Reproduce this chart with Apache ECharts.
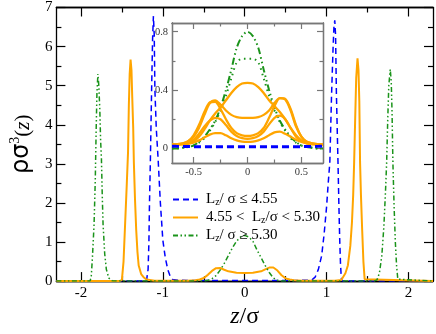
<!DOCTYPE html>
<html>
<head>
<meta charset="utf-8">
<script src="https://cdn.jsdelivr.net/npm/echarts@6/dist/echarts.min.js"></script>
<style>
html, body { margin: 0; padding: 0; background: #fff; }
#chart { width: 436px; height: 334px; }
</style>
</head>
<body>
<div id="chart"></div>
<script>
var serif = '"Liberation Serif", "Times New Roman", serif';
var sans = '"DejaVu Sans", "Liberation Sans", sans-serif';

var legendNames = ['Lz/ σ ≤ 4.55', '4.55 <  Lz/σ < 5.30', 'Lz/ σ ≥ 5.30'];

// main panel ticks
var mainXMajor = [-2, -1, 0, 1, 2];
var mainXMinor = [-1.5, -0.5, 0.5, 1.5];

// inset ticks
var insetXMajor = [-0.5, 0, 0.5];
var insetXMinor = [-0.25, 0.25];
var insetYMajor = [0, 0.4, 0.8];
var insetYMinor = [0.2, 0.6];

// main panel profiles, [z/sigma, rho sigma^3]
var mainBlue = [[-2.3,0],[-1.2,0],[-1.19,0.02],[-1.18,0.3],[-1.17,1.0],[-1.163,2.0],[-1.152,3.1],
  [-1.137,4.9],[-1.125,6.2],[-1.115,6.78],[-1.105,6.3],[-1.097,4.9],[-1.08,3.9],[-1.057,3.1],
  [-1.03,2.0],[-1.0,1.05],[-0.97,0.6],[-0.94,0.3],[-0.91,0.12],[-0.88,0.04],[-0.8,0.02],
  [-0.5,0.015],[0,0.015],[0.5,0.015],[0.75,0.02],[0.82,0.03],[0.86,0.1],[0.9,0.3],[0.94,0.65],
  [0.97,1.2],[1.0,1.9],[1.02,2.5],[1.04,3.05],[1.06,4.7],[1.08,6.0],[1.09,6.5],[1.1,6.67],
  [1.11,6.3],[1.12,4.8],[1.13,3.9],[1.14,3.0],[1.15,2.0],[1.16,1.1],[1.17,0.45],[1.18,0.08],
  [1.19,0],[2.3,0]];

var mainOrange = [[-2.3,0],[-1.53,0],[-1.5,0.03],[-1.48,0.5],[-1.46,1.5],[-1.44,2.5],[-1.425,3.3],
  [-1.415,4.5],[-1.405,5.3],[-1.394,5.67],[-1.383,5.4],[-1.374,4.73],[-1.362,3.93],[-1.354,3.05],
  [-1.34,2.1],[-1.325,1.3],[-1.31,0.75],[-1.295,0.4],[-1.265,0.18],[-1.235,0.1],[-1.2,0.04],
  [-1.1,0.01],[-0.7,0.01],[-0.6,0.02],[-0.55,0.04],[-0.5,0.08],[-0.45,0.16],[-0.4,0.26],
  [-0.35,0.33],[-0.3,0.335],[-0.25,0.29],[-0.2,0.25],[-0.1,0.215],[0,0.21],[0.1,0.215],
  [0.2,0.25],[0.25,0.3],[0.3,0.345],[0.35,0.35],[0.4,0.27],[0.45,0.15],[0.5,0.07],[0.55,0.04],
  [0.6,0.02],[0.7,0.01],[1.1,0.01],[1.18,0.03],[1.2,0.05],[1.23,0.2],[1.26,0.4],[1.29,0.9],
  [1.31,1.5],[1.325,2.2],[1.337,3.05],[1.35,4.2],[1.362,5.2],[1.378,5.7],[1.39,5.4],[1.4,4.6],
  [1.409,3.05],[1.42,2.2],[1.435,1.3],[1.45,0.5],[1.465,0.05],[1.48,0],[2.3,0]];

var mainGreen = [[-2.3,0],[-1.89,0],[-1.875,0.1],[-1.86,0.6],[-1.84,1.45],[-1.825,2.6],[-1.815,3.8],
  [-1.805,4.8],[-1.793,5.3],[-1.782,5.0],[-1.77,4.4],[-1.76,3.6],[-1.75,3.13],[-1.74,2.2],
  [-1.73,1.45],[-1.71,0.7],[-1.69,0.3],[-1.66,0.08],[-1.62,0.01],[-1.55,0],[-0.5,0],[-0.45,0.02],
  [-0.4,0.06],[-0.35,0.14],[-0.3,0.28],[-0.25,0.45],[-0.2,0.65],[-0.15,0.85],[-0.1,1.02],
  [-0.05,1.13],[0,1.17],[0.05,1.13],[0.1,1.02],[0.15,0.8],[0.2,0.6],[0.25,0.4],[0.3,0.22],
  [0.35,0.08],[0.4,0.02],[0.45,0],[1.58,0],[1.615,0.03],[1.645,0.2],[1.675,0.65],[1.7,1.4],
  [1.72,2.3],[1.734,3.05],[1.748,4.2],[1.76,5.0],[1.778,5.42],[1.79,5.1],[1.8,4.3],[1.81,3.05],
  [1.825,1.9],[1.84,1.0],[1.855,0.4],[1.87,0.05],[1.885,0],[2.3,0]];

// inset profiles on a common z grid
var insetZ = [-0.7,-0.65,-0.6,-0.55,-0.5,-0.45,-0.4,-0.35,-0.3,-0.25,-0.2,-0.15,-0.1,-0.05,0,
  0.05,0.1,0.15,0.2,0.25,0.3,0.35,0.4,0.45,0.5,0.55,0.6,0.65,0.7];
var insetBlue = [0.015,0.014,0.013,0.013,0.012,0.012,0.012,0.012,0.012,0.012,0.012,0.012,0.012,0.012,0.012,
  0.012,0.012,0.012,0.012,0.012,0.012,0.012,0.012,0.012,0.012,0.013,0.013,0.014,0.015];
var insetOrangeA = [0.03,0.03,0.03,0.035,0.05,0.08,0.13,0.19,0.24,0.28,0.33,0.38,0.42,0.445,0.45,
  0.445,0.42,0.38,0.33,0.29,0.25,0.2,0.14,0.08,0.05,0.035,0.03,0.03,0.03];
var insetOrangeB = [0.03,0.03,0.035,0.05,0.08,0.14,0.23,0.31,0.33,0.3,0.26,0.23,0.215,0.21,0.21,
  0.21,0.215,0.23,0.26,0.31,0.345,0.34,0.27,0.16,0.08,0.045,0.035,0.03,0.03];
var insetOrangeC = [0.03,0.03,0.035,0.05,0.09,0.16,0.25,0.315,0.32,0.27,0.2,0.14,0.105,0.09,0.085,
  0.09,0.105,0.14,0.21,0.29,0.345,0.335,0.26,0.15,0.08,0.045,0.035,0.03,0.03];
var insetOrangeD = [0.03,0.03,0.03,0.04,0.06,0.1,0.15,0.19,0.21,0.2,0.16,0.115,0.085,0.07,0.065,
  0.07,0.085,0.115,0.165,0.21,0.225,0.2,0.14,0.09,0.055,0.04,0.03,0.03,0.03];
var insetOrangeE = [0.025,0.025,0.028,0.032,0.04,0.055,0.075,0.095,0.105,0.105,0.09,0.07,0.055,0.047,0.045,
  0.047,0.055,0.07,0.09,0.11,0.115,0.1,0.08,0.06,0.045,0.035,0.03,0.028,0.025];
var insetGreen1 = [0,0,0.005,0.01,0.02,0.045,0.08,0.13,0.19,0.28,0.40,0.54,0.69,0.77,0.80,
  0.77,0.69,0.54,0.40,0.28,0.19,0.13,0.08,0.045,0.02,0.01,0.005,0,0];
var insetGreen2 = [0,0,0.005,0.01,0.02,0.04,0.07,0.12,0.18,0.26,0.36,0.48,0.59,0.615,0.615,
  0.615,0.59,0.48,0.36,0.26,0.18,0.12,0.07,0.04,0.02,0.01,0.005,0,0];

var blue = '#0000ff', orange = '#ffa500', green = '#1a931a';
var dashDotDot = [5, 2.5, 1.5, 2.5, 1.5, 2.5];

function pairs(vals) {
    return insetZ.map(function (z, i) { return [z, vals[i]]; });
}

// an axis that only draws ticks (and optionally labels) at given values
function tickAxis(grid, pos, min, max, ticks, len, color, labels, fs) {
    return {
        type: 'value', gridIndex: grid, position: pos, min: min, max: max,
        axisLine: { show: true, onZero: false, lineStyle: { color: color, width: 1.3 } },
        axisTick: { show: true, inside: true, length: len, customValues: ticks,
            lineStyle: { color: color, width: 1.2 } },
        axisLabel: labels ? { show: true, customValues: labels, fontFamily: serif, fontSize: fs,
            color: color === '#000' ? '#000' : '#333', margin: 4 } : { show: false },
        splitLine: { show: false }
    };
}

function mainYAxis(pos, withLabels) {
    var ax = {
        type: 'value', gridIndex: 0, position: pos, min: 0, max: 7, interval: 1,
        axisLine: { show: true, onZero: false, lineStyle: { color: '#000', width: 1.3 } },
        axisTick: { show: true, inside: true, length: 9, lineStyle: { color: '#000', width: 1.2 } },
        minorTick: { show: true, splitNumber: 2, length: 5, lineStyle: { color: '#000', width: 1.2 } },
        axisLabel: { show: withLabels, fontFamily: serif, fontSize: 15, color: '#000', margin: 4 },
        splitLine: { show: false }
    };
    if (withLabels) {
        ax.name = '{a|ρσ}{b|3}{c|(}{i|z}{c|)}';
        ax.nameLocation = 'middle';
        ax.nameRotate = 90;
        ax.nameGap = 12;
        ax.nameTextStyle = { rich: {
            a: { fontFamily: sans, fontSize: 24, color: '#000', lineHeight: 26, verticalAlign: 'bottom' },
            b: { fontFamily: serif, fontSize: 14, color: '#000', lineHeight: 12, verticalAlign: 'top' },
            c: { fontFamily: serif, fontSize: 21, color: '#000', lineHeight: 26, verticalAlign: 'bottom' },
            i: { fontFamily: serif, fontSize: 21, color: '#000', fontStyle: 'italic', lineHeight: 26, verticalAlign: 'bottom' }
        } };
    }
    return ax;
}

var chart = echarts.init(document.getElementById('chart'));

var xAxes = [
    tickAxis(0, 'bottom', -2.3, 2.3, mainXMajor, 9, '#000', mainXMajor, 15),
    tickAxis(0, 'bottom', -2.3, 2.3, mainXMinor, 5, '#000'),
    tickAxis(0, 'top', -2.3, 2.3, mainXMajor, 9, '#000'),
    tickAxis(0, 'top', -2.3, 2.3, mainXMinor, 5, '#000'),
    tickAxis(1, 'bottom', -0.7, 0.7, insetXMajor, 6, '#777', insetXMajor, 10.5),
    tickAxis(1, 'bottom', -0.7, 0.7, insetXMinor, 3.5, '#777'),
    tickAxis(1, 'top', -0.7, 0.7, insetXMajor, 6, '#777'),
    tickAxis(1, 'top', -0.7, 0.7, insetXMinor, 3.5, '#777')
];
xAxes[0].name = '{i|z}{n|/σ}';
xAxes[0].nameLocation = 'middle';
xAxes[0].nameGap = 14;
xAxes[0].nameTextStyle = { rich: {
    i: { fontFamily: serif, fontSize: 24, fontStyle: 'italic', color: '#000' },
    n: { fontFamily: serif, fontSize: 24, color: '#000' }
} };

var yAxes = [
    mainYAxis('left', true),
    mainYAxis('right', false),
    tickAxis(1, 'left', -0.1, 0.86, insetYMajor, 6, '#777', insetYMajor, 10.5),
    tickAxis(1, 'left', -0.1, 0.86, insetYMinor, 3.5, '#777'),
    tickAxis(1, 'right', -0.1, 0.86, insetYMajor, 6, '#777'),
    tickAxis(1, 'right', -0.1, 0.86, insetYMinor, 3.5, '#777')
];

function line(name, data, color, width, type, xi, yi) {
    return {
        name: name, type: 'line', data: data, xAxisIndex: xi, yAxisIndex: yi,
        symbol: 'none', showSymbol: false, animation: false,
        lineStyle: { color: color, width: width, type: type },
        itemStyle: { color: color },
        smooth: xi === 4 ? 0.3 : false
    };
}

chart.setOption({
    backgroundColor: '#fff',
    animation: false,
    grid: [
        { left: 47, top: 6, width: 386, height: 291 },
        { left: 172, top: 23, width: 151, height: 140, show: true, backgroundColor: '#fff', borderWidth: 0 }
    ],
    xAxis: xAxes,
    yAxis: yAxes,
    legend: {
        orient: 'vertical', left: 167, top: 187,
        itemWidth: 25, itemHeight: 12, itemGap: 2.5,
        data: legendNames,
        itemStyle: { opacity: 0 },
        textStyle: {
            fontFamily: serif, fontSize: 15, color: '#000', padding: [0, 0, 0, 3],
            rich: {
                n: { fontFamily: serif, fontSize: 15, color: '#000', lineHeight: 16 },
                s: { fontFamily: serif, fontSize: 10, color: '#000', lineHeight: 6, verticalAlign: 'bottom' }
            }
        },
        formatter: function (name) {
            return name.split('Lz').map(function (p) {
                return p ? '{n|' + p + '}' : '';
            }).join('{n|L}{s|z}');
        }
    },
    series: [
        line(legendNames[0], mainBlue, blue, 1.5, [6, 4], 0, 0),
        line(legendNames[1], mainOrange, orange, 2, 'solid', 0, 0),
        line(legendNames[2], mainGreen, green, 1.5, dashDotDot, 0, 0),
        line(legendNames[2], pairs(insetGreen1), green, 2, [7, 3, 1.5, 3, 1.5, 3], 4, 2),
        line(legendNames[2], pairs(insetGreen2), green, 2, [1.5, 4], 4, 2),
        line(legendNames[1], pairs(insetOrangeA), orange, 2.3, 'solid', 4, 2),
        line(legendNames[1], pairs(insetOrangeB), orange, 2.3, 'solid', 4, 2),
        line(legendNames[1], pairs(insetOrangeC), orange, 2.3, 'solid', 4, 2),
        line(legendNames[1], pairs(insetOrangeD), orange, 2.3, 'solid', 4, 2),
        line(legendNames[1], pairs(insetOrangeE), orange, 2.3, 'solid', 4, 2),
        line(legendNames[0], pairs(insetBlue), blue, 3, [7, 4], 4, 2)
    ]
});
</script>
</body>
</html>
